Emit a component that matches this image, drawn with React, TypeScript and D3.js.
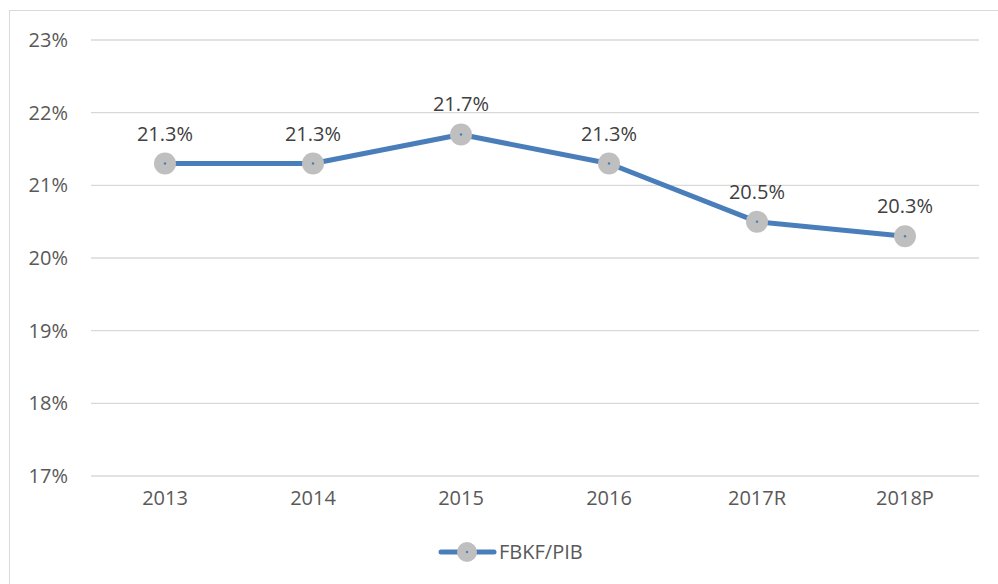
import React from "react";
import * as d3 from "d3";

// chart values
const years = ["2013", "2014", "2015", "2016", "2017R", "2018P"];
const fbkfPib = [21.3, 21.3, 21.7, 21.3, 20.5, 20.3];
const yTicks = [17, 18, 19, 20, 21, 22, 23];
const seriesName = "FBKF/PIB";

function App() {
  const width = 998;
  const height = 584;
  const font = "'Open Sans', sans-serif";

  const xScale = d3.scaleBand().domain(years).range([91, 979]);
  const yScale = d3.scaleLinear().domain([17, 23]).range([476, 40]);

  const cx = (d: string) => (xScale(d) as number) + xScale.bandwidth() / 2;

  const line = d3
    .line<number>()
    .x((d, i) => cx(years[i]))
    .y((d) => yScale(d));

  return (
    <svg
      width={width}
      height={height}
      style={{ position: "absolute", left: 0, top: 0, background: "#fff" }}
    >
      <rect x={9.5} y={10.5} width={1000} height={600} fill="#fff" stroke="#d9d9d9" />

      {/* grid */}
      {yTicks.map((t) => (
        <g key={t}>
          <line
            x1={91}
            x2={979}
            y1={yScale(t)}
            y2={yScale(t)}
            stroke="#d9d9d9"
            strokeWidth={1.3}
          />
          <text
            x={68}
            y={yScale(t) + 7}
            textAnchor="end"
            fontFamily={font}
            fontSize={20}
            fill="#595959"
          >
            {t}%
          </text>
        </g>
      ))}

      {/* x labels */}
      {years.map((y) => (
        <text
          key={y}
          x={cx(y)}
          y={505}
          textAnchor="middle"
          fontFamily={font}
          fontSize={20}
          fill="#595959"
        >
          {y}
        </text>
      ))}

      <path
        d={line(fbkfPib) || ""}
        fill="none"
        stroke="#4a7ebb"
        strokeWidth={5}
        strokeLinejoin="round"
      />

      {fbkfPib.map((v, i) => (
        <g key={i}>
          <circle cx={cx(years[i])} cy={yScale(v)} r={11} fill="#bfbfbf" />
          <circle cx={cx(years[i])} cy={yScale(v)} r={1.2} fill="#4a7ebb" />
          <text
            x={cx(years[i])}
            y={yScale(v) - 23}
            textAnchor="middle"
            fontFamily={font}
            fontSize={20}
            fill="#404040"
          >
            {v.toFixed(1)}%
          </text>
        </g>
      ))}

      {/* legend */}
      <g>
        <line x1={441} x2={494} y1={552} y2={552} stroke="#4a7ebb" strokeWidth={5} strokeLinecap="round" />
        <circle cx={467} cy={552} r={10} fill="#bfbfbf" />
        <circle cx={467} cy={552} r={1.2} fill="#4a7ebb" />
        <text x={499} y={559} fontFamily={font} fontSize={20} fill="#595959">
          {seriesName}
        </text>
      </g>
    </svg>
  );
}

export default App;
